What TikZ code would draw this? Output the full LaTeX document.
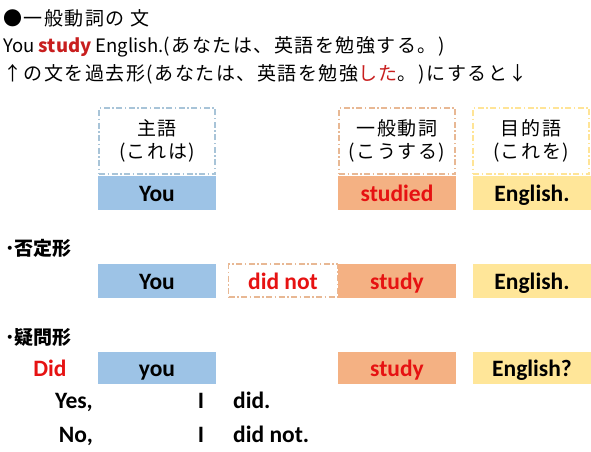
\documentclass[tikz,border=0pt]{standalone}
\usepackage{fontspec}
\newfontfamily\jpfont{Noto Sans CJK JP}
\newfontfamily\jpwidefont[LetterSpace = 8]{Noto Sans CJK JP}
\newfontfamily\wordfont{Carlito}
\definecolor{subjblue}{RGB}{157,195,230}
\definecolor{verborange}{RGB}{244,177,131}
\definecolor{objyellow}{RGB}{255,230,153}
\definecolor{subjline}{RGB}{168,196,216}
\definecolor{verbline}{RGB}{232,184,148}
\definecolor{objline}{RGB}{255,228,150}
\definecolor{wordred}{RGB}{230,18,18}
\definecolor{headred}{RGB}{200,30,30}
\tikzset{
  wordbox/.style = {minimum width = 118, minimum height = 34, inner sep = 0,
    text height = 17, text depth = 0,
    font = \wordfont\fontsize{23.5}{26}\selectfont\bfseries},
  rolebox/.style = {draw, dash pattern = on 6pt off 2.5pt on 1.5pt off 2.5pt,
    line width = 1.4, minimum width = 116, minimum height = 66, inner sep = 0,
    align = center, font = \jpwidefont\fontsize{19}{23}\selectfont},
  plainword/.style = {inner sep = 0, font = \wordfont\fontsize{23.5}{26}\selectfont\bfseries},
  headline/.style = {anchor = west, inner sep = 0, font = \jpwidefont\fontsize{19}{22}\selectfont},
  formlabel/.style = {anchor = west, inner sep = 0, font = \jpfont\fontsize{19}{22}\selectfont\bfseries}
}
\begin{document}
\begin{tikzpicture}[x = 1pt, y = -1pt]
  \useasboundingbox (0, 0) rectangle (591, 451);

  \node[headline] (title) at (3, 18) {●一般動詞の 文};
  \node[headline] (present) at (3, 47)
    {{\jpfont\fontsize{18.5}{22}\selectfont You \textcolor{headred}{\bfseries study} English.}(あなたは、英語を勉強する。)};
  \node[headline] (past) at (3, 74)
    {↑の文を過去形(あなたは、英語を勉強\textcolor{headred}{した}。)にすると↓};

  \node[rolebox, subjline] (subjrole) at (157, 141) {\textcolor{black}{主語}\\\textcolor{black}{(これは)}};
  \node[rolebox, verbline] (verbrole) at (397, 141) {\textcolor{black}{一般動詞}\\\textcolor{black}{(こうする)}};
  \node[rolebox, objline] (objrole) at (531, 141) {\textcolor{black}{目的語}\\\textcolor{black}{(これを)}};

  \node[wordbox, fill = subjblue] (subj1) at (157, 193) {You};
  \node[wordbox, fill = verborange, text = wordred] (verb1) at (397, 193) {studied};
  \node[wordbox, fill = objyellow] (obj1) at (532, 193) {English.};

  \node[formlabel] (neglabel) at (5, 248) {･否定形};
  \node[wordbox, fill = subjblue] (subj2) at (157, 280.5) {You};
  \node[wordbox, draw = verbline, dash pattern = on 6pt off 2.5pt on 1.5pt off 2.5pt,
    line width = 1.4, minimum width = 109, minimum height = 33, text = wordred] (neg) at (283, 280.5) {did not};
  \node[wordbox, fill = verborange, text = wordred] (verb2) at (397, 280.5) {study};
  \node[wordbox, fill = objyellow] (obj2) at (532, 280.5) {English.};

  \node[formlabel] (qlabel) at (5, 337) {･疑問形};
  \node[plainword, anchor = base, text = wordred] (did) at (50, 376) {Did};
  \node[wordbox, fill = subjblue, minimum height = 32] (subj3) at (157, 368) {you};
  \node[wordbox, fill = verborange, minimum height = 32, text = wordred] (verb3) at (397, 368) {study};
  \node[wordbox, fill = objyellow, minimum height = 32] (obj3) at (532, 368) {English?};

  \node[plainword, anchor = base east] (yes) at (93, 408) {Yes,};
  \node[plainword, anchor = base] (yesi) at (201, 408) {I};
  \node[plainword, anchor = base west] (yesdid) at (233, 408) {did.};

  \node[plainword, anchor = base east] (no) at (93, 442) {No,};
  \node[plainword, anchor = base] (noi) at (201, 442) {I};
  \node[plainword, anchor = base west] (nodid) at (233, 442) {did not.};
\end{tikzpicture}
\end{document}
